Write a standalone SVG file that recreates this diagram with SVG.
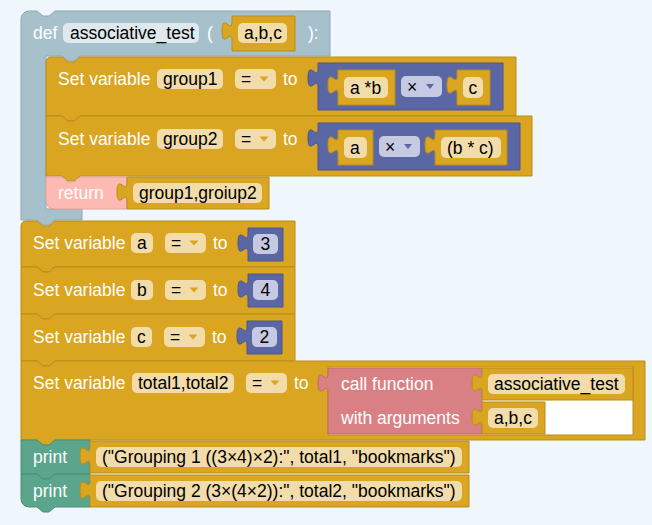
<svg xmlns="http://www.w3.org/2000/svg" width="652" height="525" viewBox="0 0 652 525">
<style>
text{font-family:"Liberation Sans",Arial,sans-serif;font-size:17.5px;dominant-baseline:central}
.w{fill:#fff}
.k{fill:#000}
.y{fill:#daa520;stroke:#b98c1b;stroke-width:1}
.g{fill:#a6c1cb;stroke:#8fa9b3;stroke-width:1}
.p{fill:#5b67a5;stroke:#4a5690;stroke-width:1}
.r{fill:#fdbab3;stroke:#e5a29b;stroke-width:1}
.c{fill:#d98084;stroke:#c06a6f;stroke-width:1}
.gr{fill:#5ba58c;stroke:#4a8e77;stroke-width:1}
.f{fill:#f2dcaa}
.fp{fill:#c5c9e1}
.fg{fill:#dfe8ec}
.ay{fill:#daa520}
.ap{fill:#5b67a5}
</style>
<rect width="652" height="525" fill="#eff6fc"/>
<g id="connectors"/>

<g id="def">
<path class="g" d="M21,19 a8,8 0 0 1 8,-8 H37 l6,5 6,0 6,-5 H330 V56 H80 l-6,5 -6,0 -6,-5 H46 V209 H82 V220 H55 l-6,5 -6,0 -6,-5 H21 Z"/>
<text class="w" x="33" y="33">def</text>
<rect class="fg" x="63" y="23" width="136" height="20" rx="5"/>
<text class="k" x="70" y="33">associative_test</text>
<text class="w" x="207" y="33">(</text>
<path class="y" d="M295,16 H232 v6 c0,12 -10,-10 -10,9 s10,-3 10,9 V51 H295 Z"/>
<rect class="f" x="238" y="23" width="49" height="20" rx="5"/>
<text class="k" x="244" y="33">a,b,c</text>
<text class="w" x="308" y="33">):</text>
</g>

<g id="set-group1">
<path class="y" d="M46,62 a5,5 0 0 1 5,-5 H62 l6,5 6,0 6,-5 H516 V116 H80 l-6,5 -6,0 -6,-5 H46 Z"/>
<text class="w" x="58" y="79">Set variable</text>
<rect class="f" x="157" y="69" width="66" height="20" rx="5"/>
<text class="k" x="163" y="79">group1</text>
<rect class="f" x="235" y="69" width="41" height="20" rx="5"/>
<text class="k" x="241" y="79">=</text>
<polygon class="ay" points="259.5,76.5 268.5,76.5 264,81.5"/>
<text class="w" x="283" y="79">to</text>
<path class="p" d="M503,63 H318 v6 c0,12 -10,-10 -10,9 s10,-3 10,9 V110 H503 Z"/>
<path class="y" d="M395,70 H338 v6 c0,12 -10,-10 -10,9 s10,-3 10,9 V105 H395 Z"/>
<rect class="f" x="344" y="77" width="44" height="21" rx="5"/>
<text class="k" x="350" y="87.5">a *b</text>
<rect class="fp" x="401" y="76" width="41" height="21" rx="5"/>
<text class="k" x="407" y="86.5">×</text>
<polygon class="ap" points="426,84 434,84 430,89"/>
<path class="y" d="M490,70 H457 v6 c0,12 -10,-10 -10,9 s10,-3 10,9 V105 H490 Z"/>
<rect class="f" x="463" y="77" width="20" height="21" rx="5"/>
<text class="k" x="468.6" y="87.5">c</text>
</g>

<g id="set-group2">
<path class="y" d="M46,116 H62 l6,5 6,0 6,-5 H532 V176 H80 l-6,5 -6,0 -6,-5 H46 Z"/>
<text class="w" x="58" y="139">Set variable</text>
<rect class="f" x="157" y="129" width="66" height="20" rx="5"/>
<text class="k" x="163" y="139">group2</text>
<rect class="f" x="235" y="129" width="41" height="20" rx="5"/>
<text class="k" x="241" y="139">=</text>
<polygon class="ay" points="259.5,136.5 268.5,136.5 264,141.5"/>
<text class="w" x="283" y="139">to</text>
<path class="p" d="M520,123 H318 v6 c0,12 -10,-10 -10,9 s10,-3 10,9 V170 H520 Z"/>
<path class="y" d="M373,130 H338 v6 c0,12 -10,-10 -10,9 s10,-3 10,9 V165 H373 Z"/>
<rect class="f" x="344" y="137" width="23" height="21" rx="5"/>
<text class="k" x="350" y="147.5">a</text>
<rect class="fp" x="379" y="136" width="41" height="21" rx="5"/>
<text class="k" x="385" y="146.5">×</text>
<polygon class="ap" points="404,144 412,144 408,149"/>
<path class="y" d="M507,130 H435 v6 c0,12 -10,-10 -10,9 s10,-3 10,9 V165 H507 Z"/>
<rect class="f" x="441" y="137" width="60" height="21" rx="5"/>
<text class="k" x="447" y="147.5">(b * c)</text>
</g>

<g id="return">
<path class="r" d="M46,177 H62 l6,5 6,0 6,-5 H127 V209 H54 a8,8 0 0 1 -8,-8 Z"/>
<text class="w" x="58" y="193">return</text>
<path class="y" d="M269,177 H127 v6 c0,12 -10,-10 -10,9 s10,-3 10,9 V209 H269 Z"/>
<rect class="f" x="133" y="183" width="129" height="20" rx="5"/>
<text class="k" x="139" y="193">group1,groiup2</text>
</g>

<g id="set-a">
<path class="y" d="M21,226 a5,5 0 0 1 5,-5 H37 l6,5 6,0 6,-5 H295 V267 H55 l-6,5 -6,0 -6,-5 H21 Z"/>
<text class="w" x="33" y="243">Set variable</text>
<rect class="f" x="131" y="233" width="22" height="20" rx="5"/>
<text class="k" x="137" y="243">a</text>
<rect class="f" x="165" y="233" width="41" height="20" rx="5"/>
<text class="k" x="171" y="243">=</text>
<polygon class="ay" points="189.5,240.5 198.5,240.5 194,245.5"/>
<text class="w" x="213" y="243">to</text>
<path class="p" d="M283,228 H248 v6 c0,12 -10,-10 -10,9 s10,-3 10,9 V261 H283 Z"/>
<rect class="fp" x="253" y="234" width="25" height="20" rx="5"/>
<text class="k" x="260.6" y="244">3</text>
</g>

<g id="set-b">
<path class="y" d="M21,267 H37 l6,5 6,0 6,-5 H295 V314 H55 l-6,5 -6,0 -6,-5 H21 Z"/>
<text class="w" x="33" y="290">Set variable</text>
<rect class="f" x="131" y="280" width="22" height="20" rx="5"/>
<text class="k" x="137" y="290">b</text>
<rect class="f" x="165" y="280" width="41" height="20" rx="5"/>
<text class="k" x="171" y="290">=</text>
<polygon class="ay" points="189.5,287.5 198.5,287.5 194,292.5"/>
<text class="w" x="213" y="290">to</text>
<path class="p" d="M283,274 H248 v6 c0,12 -10,-10 -10,9 s10,-3 10,9 V307 H283 Z"/>
<rect class="fp" x="253" y="280" width="25" height="20" rx="5"/>
<text class="k" x="260.6" y="290">4</text>
</g>

<g id="set-c">
<path class="y" d="M21,314 H37 l6,5 6,0 6,-5 H295 V361 H55 l-6,5 -6,0 -6,-5 H21 Z"/>
<text class="w" x="33" y="337">Set variable</text>
<rect class="f" x="131" y="327" width="21" height="20" rx="5"/>
<text class="k" x="137" y="337">c</text>
<rect class="f" x="164" y="327" width="41" height="20" rx="5"/>
<text class="k" x="170" y="337">=</text>
<polygon class="ay" points="188.5,334.5 197.5,334.5 193,339.5"/>
<text class="w" x="212" y="337">to</text>
<path class="p" d="M282,321 H247 v6 c0,12 -10,-10 -10,9 s10,-3 10,9 V354 H282 Z"/>
<rect class="fp" x="252" y="327" width="25" height="20" rx="5"/>
<text class="k" x="259.6" y="337">2</text>
</g>

<g id="set-total">
<path class="y" d="M21,361 H37 l6,5 6,0 6,-5 H645 V440 H55 l-6,5 -6,0 -6,-5 H21 Z"/>
<text class="w" x="33" y="383">Set variable</text>
<rect class="f" x="132" y="373" width="102" height="20" rx="5"/>
<text class="k" x="138" y="383">total1,total2</text>
<rect class="f" x="246" y="373" width="41" height="20" rx="5"/>
<text class="k" x="252" y="383">=</text>
<polygon class="ay" points="270.5,380.5 279.5,380.5 275,385.5"/>
<text class="w" x="294" y="383">to</text>
<rect x="328" y="367" width="305" height="68" fill="#ffffff" stroke="#b98c1b"/>
<path class="c" d="M482,368 H328 v6 c0,12 -10,-10 -10,9 s10,-3 10,9 V434 H482 Z"/>
<text class="w" x="341" y="384">call function</text>
<text class="w" x="341" y="418">with arguments</text>
<path class="y" d="M633,368 H482 v6 c0,12 -10,-10 -10,9 s10,-3 10,9 V400 H633 Z"/>
<rect class="f" x="488" y="374" width="137" height="20" rx="5"/>
<text class="k" x="494" y="384">associative_test</text>
<path class="y" d="M545,402 H482 v6 c0,12 -10,-10 -10,9 s10,-3 10,9 V434 H545 Z"/>
<rect class="f" x="488" y="408" width="50" height="20" rx="5"/>
<text class="k" x="494" y="418">a,b,c</text>
</g>

<g id="print1">
<path class="gr" d="M21,440 H37 l6,5 6,0 6,-5 H90 V474 H55 l-6,5 -6,0 -6,-5 H21 Z"/>
<text class="w" x="33" y="457">print</text>
<path class="y" d="M469,441 H90 v6 c0,12 -10,-10 -10,9 s10,-3 10,9 V473 H469 Z"/>
<rect class="f" x="96" y="447" width="366" height="20" rx="5"/>
<text class="k" x="102" y="457">("Grouping 1 ((3×4)×2):", total1, "bookmarks")</text>
</g>

<g id="print2">
<path class="gr" d="M21,474 H37 l6,5 6,0 6,-5 H90 V507 H55 l-6,5 -6,0 -6,-5 H29 a8,8 0 0 1 -8,-8 Z"/>
<text class="w" x="33" y="491">print</text>
<path class="y" d="M469,475 H90 v6 c0,12 -10,-10 -10,9 s10,-3 10,9 V507 H469 Z"/>
<rect class="f" x="96" y="481" width="366" height="20" rx="5"/>
<text class="k" x="102" y="491">("Grouping 2 (3×(4×2)):", total2, "bookmarks")</text>
</g>
</svg>
